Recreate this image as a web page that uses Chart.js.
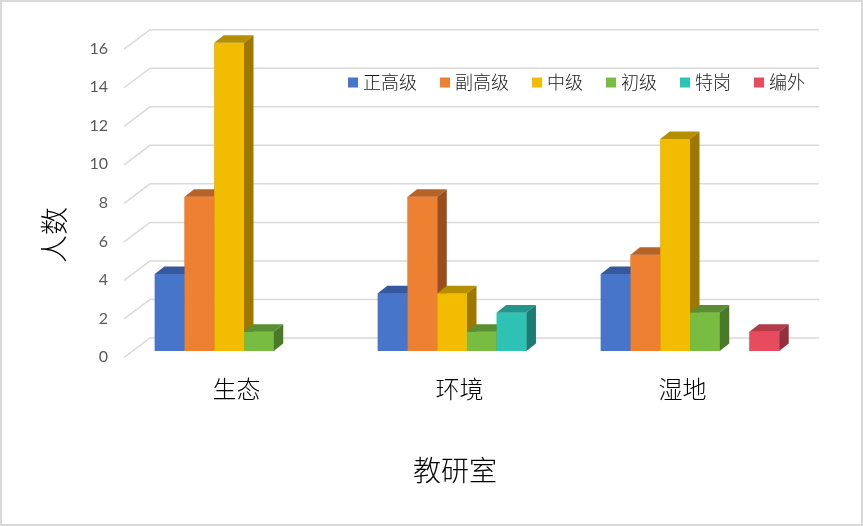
<!DOCTYPE html>
<html><head><meta charset="utf-8">
<script src="https://cdn.jsdelivr.net/npm/chart.js@4.4.1/dist/chart.umd.min.js"></script>
<style>
html,body{margin:0;padding:0;background:#fff;}
#wrap{position:relative;width:863px;height:526px;overflow:hidden;}
#frame{position:absolute;left:0;top:0;width:863px;height:526px;box-sizing:border-box;border:2px solid #d9d9d9;pointer-events:none;}
canvas{position:absolute;left:0;top:0;}
</style></head><body>
<div id="wrap"><canvas id="c" width="863" height="526"></canvas><div id="frame"></div></div>
<script>
// ---- data ----
const categories = ['生态', '环境', '湿地'];
const seriesNames = ['正高级', '副高级', '中级', '初级', '特岗', '编外'];
const zhengGaoJi = [4, 3, 4];
const fuGaoJi = [8, 8, 5];
const zhongJi = [16, 3, 11];
const chuJi = [1, 1, 2];
const teGang = [null, 2, null];
const bianWai = [null, null, 1];
const yTickValues = [0, 2, 4, 6, 8, 10, 12, 14, 16];
const yTitle = '人数';
const xTitle = '教研室';

// ---- styles ----
const frontColors = ['#4775CA', '#EE8131', '#F2BC00', '#78BC42', '#2EC2B4', '#E64C5E'];
const topColors   = ['#35599C', '#B86226', '#B68F00', '#5A8E32', '#23958A', '#B23A49'];
const sideColors  = ['#2E4F8C', '#9A4E1E', '#9C7800', '#4A7A28', '#1E7B71', '#952F3C'];
const DX = 9.5, DY = 7.5;
const CJK = '"Noto Sans CJK SC", sans-serif';

const seriesData = [zhengGaoJi, fuGaoJi, zhongJi, chuJi, teGang, bianWai];

const datasets = seriesNames.map((name, i) => ({
  label: name,
  data: seriesData[i],
  backgroundColor: frontColors[i],
  borderWidth: 0,
  categoryPercentage: 0.8,
  barPercentage: 1.0
}));

const plugin3d = {
  id: 'bars3d',
  beforeDatasetsDraw(chart) {
    const ctx = chart.ctx, ys = chart.scales.y, a = chart.chartArea;
    ctx.save();
    ctx.strokeStyle = '#d9d9d9';
    ctx.lineWidth = 1.5;
    yTickValues.forEach(v => {
      const py = ys.getPixelForValue(v);
      ctx.beginPath();
      ctx.moveTo(a.left - 8.5, py + 6.5);
      ctx.lineTo(a.left + 17.5, py - 13);
      ctx.lineTo(a.right + 17.5, py - 13);
      ctx.stroke();
    });
    ctx.restore();
  },
  afterDatasetsDraw(chart) {
    const ctx = chart.ctx;
    ctx.save();
    chart.data.datasets.forEach((ds, i) => {
      const meta = chart.getDatasetMeta(i);
      meta.data.forEach((bar, j) => {
        if (ds.data[j] == null) return;
        const p = bar.getProps(['x', 'y', 'base', 'width'], true);
        const x1 = p.x - p.width / 2, x2 = p.x + p.width / 2;
        const top = p.y, base = p.base;
        ctx.fillStyle = frontColors[i];
        ctx.fillRect(x1, top, p.width, base - top);
        ctx.beginPath();
        ctx.moveTo(x1, top); ctx.lineTo(x1 + DX, top - DY);
        ctx.lineTo(x2 + DX, top - DY); ctx.lineTo(x2, top);
        ctx.closePath();
        ctx.fillStyle = topColors[i];
        ctx.fill();
        ctx.beginPath();
        ctx.moveTo(x2, top); ctx.lineTo(x2 + DX, top - DY);
        ctx.lineTo(x2 + DX, base - DY); ctx.lineTo(x2, base);
        ctx.closePath();
        ctx.fillStyle = sideColors[i];
        ctx.fill();
      });
    });
    ctx.restore();
  },
  afterDraw(chart) {
    const ctx = chart.ctx;
    ctx.save();
    // axis titles
    ctx.fillStyle = '#000';
    ctx.font = '300 28px ' + CJK;
    ctx.textAlign = 'center';
    ctx.textBaseline = 'middle';
    ctx.fillText(xTitle, 455, 470);
    ctx.save();
    ctx.translate(54, 235);
    ctx.rotate(-Math.PI / 2);
    ctx.fillText(yTitle, 0, 0);
    ctx.restore();
    // legend
    ctx.font = '300 18px ' + CJK;
    ctx.textAlign = 'left';
    let x = 348;
    const ly = 82;
    chart.data.datasets.forEach((ds, i) => {
      ctx.fillStyle = frontColors[i];
      ctx.fillRect(x, ly - 4.5, 10, 10);
      ctx.fillStyle = '#1a1a1a';
      ctx.fillText(ds.label, x + 15, ly);
      x += 15 + ctx.measureText(ds.label).width + 23;
    });
    ctx.restore();
  }
};

new Chart(document.getElementById('c'), {
  type: 'bar',
  data: { labels: categories, datasets },
  options: {
    responsive: false,
    animation: false,
    devicePixelRatio: 1,
    layout: { padding: { left: 0, right: 61.5, top: 42.7, bottom: 0 } },
    plugins: { legend: { display: false }, tooltip: { enabled: false }, title: { display: false } },
    scales: {
      x: {
        type: 'category',
        grid: { display: false, drawTicks: false },
        border: { display: false },
        ticks: { color: '#000', font: { family: CJK, size: 24, weight: '300' }, padding: 23, labelOffset: -7.5, maxRotation: 0 },
        afterFit(s) { s.height = 175; }
      },
      y: {
        min: 0, max: 16,
        grid: { display: false, drawTicks: false },
        border: { display: false },
        ticks: { stepSize: 2, color: '#595959', font: { family: 'Lato, "Noto Sans", sans-serif', size: 16 }, padding: 24.5, labelOffset: 6 },
        afterFit(s) { s.height; s.width = 132.5; }
      }
    }
  },
  plugins: [plugin3d]
});
</script>
</body></html>
